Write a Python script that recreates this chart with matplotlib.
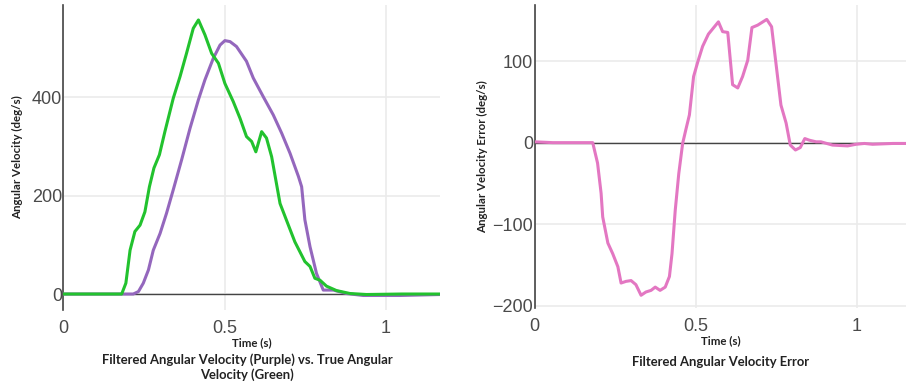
import matplotlib.pyplot as plt

# true angular velocity (green)
true_t = [0, 0.181, 0.194, 0.207, 0.222, 0.238, 0.253, 0.267, 0.281, 0.298, 0.315,
          0.341, 0.362, 0.382, 0.403, 0.419, 0.439, 0.460, 0.481, 0.501, 0.527,
          0.548, 0.568, 0.584, 0.597, 0.615, 0.630, 0.646, 0.672, 0.692, 0.718,
          0.749, 0.765, 0.780, 0.796, 0.816, 0.847, 0.889, 0.94, 1.05, 1.17]
true_v = [0, 0, 22, 89, 127, 140, 167, 218, 256, 283, 330,
          398, 442, 489, 540, 557, 527, 489, 469, 428, 391,
          357, 320, 310, 289, 330, 317, 279, 184, 150, 106,
          66, 56, 32, 28, 16, 7, 1, -1, 0, 0]

# filtered angular velocity (purple)
filt_t = [0, 0.217, 0.233, 0.248, 0.264, 0.279, 0.300, 0.320, 0.341, 0.367, 0.393,
          0.419, 0.439, 0.465, 0.486, 0.501, 0.517, 0.537, 0.568, 0.589, 0.620,
          0.651, 0.677, 0.703, 0.729, 0.739, 0.749, 0.765, 0.785, 0.806, 0.837,
          0.878, 0.930, 1.044, 1.17]
filt_v = [0, 0, 5, 22, 49, 89, 123, 164, 212, 273, 337,
          395, 435, 479, 506, 515, 513, 503, 473, 439, 401,
          364, 327, 286, 239, 218, 151, 96, 42, 8, 8,
          1, -3, -3, -1]

# filtered - true error (pink)
err_t = [0, 0.056, 0.180, 0.195, 0.206, 0.211, 0.227, 0.242, 0.258, 0.268, 0.283,
         0.299, 0.314, 0.330, 0.345, 0.361, 0.374, 0.389, 0.405, 0.418, 0.426,
         0.436, 0.447, 0.459, 0.469, 0.480, 0.493, 0.506, 0.521, 0.539, 0.570,
         0.583, 0.599, 0.614, 0.630, 0.645, 0.661, 0.674, 0.692, 0.720, 0.735,
         0.751, 0.764, 0.780, 0.793, 0.809, 0.824, 0.838, 0.852, 0.873, 0.888,
         0.924, 0.971, 0.997, 1.023, 1.048, 1.111, 1.17]
err_v = [1, 0, 0, -25, -62, -91, -123, -136, -152, -172, -170,
         -169, -174, -187, -183, -181, -177, -181, -177, -164, -136,
         -83, -38, -1, 16, 34, 81, 99, 118, 133, 148,
         136, 135, 71, 67, 81, 101, 141, 144, 151, 142,
         89, 46, 24, -3, -9, -6, 5, 3, 1, 1,
         -3, -4, -2, -1, -2, -1, -1]

GREEN = '#22c22e'
PURPLE = '#9467bd'
PINK = '#e377c2'
TICK_FONT = 'Liberation Sans'
LABEL_FONT = 'Lato'
LABEL_SIZE = 8.3
TITLE_SIZE = 9.4


def style_axes(ax, xlim, ylim, yticks):
    ax.set_xlim(*xlim)
    ax.set_ylim(*ylim)
    for s in ['top', 'right', 'bottom']:
        ax.spines[s].set_visible(False)
    ax.spines['left'].set_color('#444444')
    ax.spines['left'].set_linewidth(1.2)
    ax.set_xticks([0, 0.5, 1])
    ax.set_xticklabels(['0', '0.5', '1'])
    ax.set_yticks(yticks)
    ax.tick_params(length=0, labelsize=13, labelcolor='#4a4a4a')
    ax.tick_params(axis='x', pad=7)
    ax.tick_params(axis='y', pad=1)
    for lab in ax.get_xticklabels() + ax.get_yticklabels():
        lab.set_fontfamily(TICK_FONT)
    ax.grid(True, color='#ebebeb', linewidth=1.2)
    ax.set_axisbelow(True)
    ax.axhline(0, color='#444444', linewidth=1.0, zorder=1)
    ax.set_xlabel('Time (s)', fontsize=LABEL_SIZE, fontweight='bold', family=LABEL_FONT,
                  labelpad=0, color='#222222')


def main():
    fig = plt.figure(figsize=(9.06, 3.87), dpi=100)

    # left panel
    ax1 = fig.add_axes([63.3 / 906, 1 - 310 / 387, (440 - 63.3) / 906, (310 - 4.7) / 387])
    ax1.plot(filt_t, filt_v, color=PURPLE, linewidth=2.2, zorder=3)
    ax1.plot(true_t, true_v, color=GREEN, linewidth=2.2, zorder=4)
    style_axes(ax1, (0, 1.168), (-32.5, 588), [0, 200, 400])
    ax1.set_ylabel('Angular Velocity (deg/s)', fontsize=LABEL_SIZE, fontweight='bold',
                   family=LABEL_FONT, color='#222222')
    ax1.yaxis.set_label_coords(-40 / 376.7, 0.5)
    fig.text(247 / 906, 1 - 367 / 387,
             'Filtered Angular Velocity (Purple) vs. True Angular\nVelocity (Green)',
             ha='center', va='center', fontsize=TITLE_SIZE, fontweight='bold',
             family=LABEL_FONT, color='#222222', linespacing=1.25)

    # right panel
    ax2 = fig.add_axes([534.7 / 906, 1 - 308 / 387, (906 - 534.7) / 906, (308 - 4.7) / 387])
    ax2.plot(err_t, err_v, color=PINK, linewidth=2.2, zorder=3)
    style_axes(ax2, (0, 1.152), (-202.6, 169), [-200, -100, 0, 100])
    ax2.set_ylabel('Angular Velocity Error (deg/s)', fontsize=LABEL_SIZE, fontweight='bold',
                   family=LABEL_FONT, color='#222222')
    ax2.yaxis.set_label_coords(-47 / 371.3, 0.5)
    fig.text(721 / 906, 1 - 362 / 387, 'Filtered Angular Velocity Error',
             ha='center', va='center', fontsize=TITLE_SIZE, fontweight='bold',
             family=LABEL_FONT, color='#222222')

    fig.savefig('out.png', dpi=100)


if __name__ == '__main__':
    main()
